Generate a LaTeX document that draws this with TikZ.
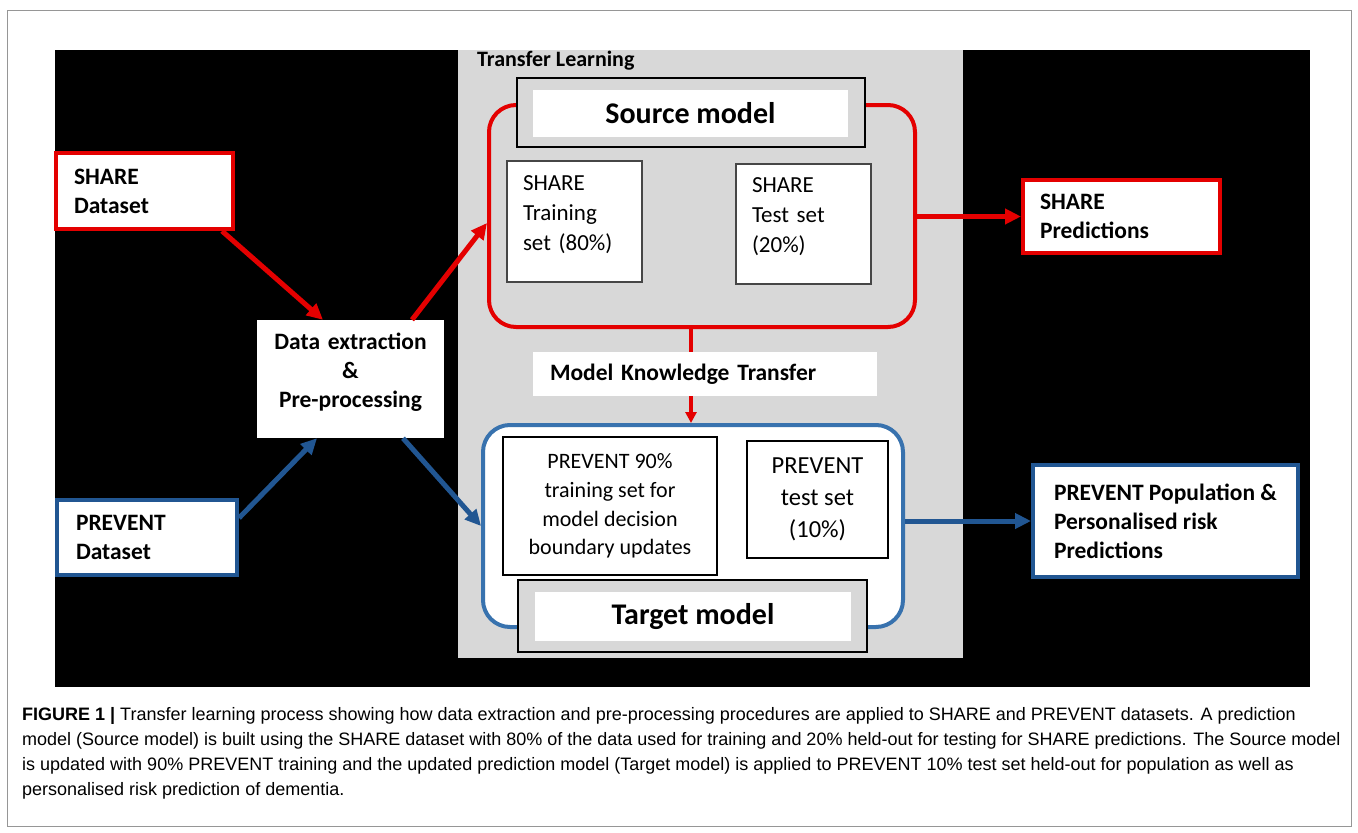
\documentclass[tikz,border=0pt]{standalone}
\usepackage{fontspec}
\setmainfont{Carlito}
\newfontfamily\capfont{Liberation Sans}
\usetikzlibrary{arrows.meta}

\definecolor{shred}{RGB}{228,0,0}
\definecolor{prblue}{RGB}{33,86,146}
\definecolor{rimblue}{RGB}{56,114,174}
\definecolor{panelgray}{RGB}{216,216,216}
\definecolor{framegray}{RGB}{150,150,150}
\definecolor{setborder}{RGB}{70,70,70}

\begin{document}
\begin{tikzpicture}[x=1pt, y=-1pt,
  nrm/.style={font=\fontsize{23}{30}\selectfont},
  bld/.style={font=\bfseries\fontsize{23.5}{29}\selectfont},
  inout/.style={bld, fill=white, line width=4pt, inner xsep=18pt, inner ysep=0pt, align=left},
  setbox/.style={nrm, draw=setborder, line width=1.5pt, fill=white, inner xsep=16pt, inner ysep=0pt, align=left},
  prevset/.style={draw=black, line width=1.5pt, fill=white, align=center, inner sep=0pt},
  modelframe/.style={draw=black, line width=2pt, fill=panelgray, inner sep=0pt},
  modelname/.style={fill=white, inner sep=0pt, font=\bfseries\fontsize{30}{36}\selectfont},
  grouprect/.style={rounded corners=27pt, line width=4pt, inner sep=0pt},
  redarrow/.style={shred, line width=5pt, -{Triangle[length=16pt,width=15pt]}},
  bluearrow/.style={prblue, line width=5pt, -{Triangle[length=16pt,width=15pt]}}]

  % page, frame and backgrounds
  \fill[white] (0,0) rectangle (1358,833);
  \useasboundingbox (0,0) rectangle (1358,833);
  \draw[framegray, line width=1pt] (7,10) rectangle (1351,826);
  \fill[black] (55,50) rectangle (1310,687);
  \fill[panelgray] (458,50) rectangle (963,658);
  \node[anchor=west, inner sep=0pt, font=\bfseries\fontsize{22}{26}\selectfont] (tl) at (477,61) {Transfer Learning};

  % source model
  \node[grouprect, draw=shred, minimum width=426pt, minimum height=222pt] (srcbox) at (702,216) {};
  \node[modelframe, minimum width=348pt, minimum height=69pt] (srcmodel) at (691,112.5) {};
  \node[modelname, minimum width=315pt, minimum height=47pt] (srcname) at (690.5,113.5) {Source model};
  \node[setbox, text width=103pt, text height=29.5pt, text depth=91.5pt] (sharetrain) at (574.5,221.5) {SHARE\\Training\\set (80\%)};
  \node[setbox, text width=103pt, text height=28.5pt, text depth=91.5pt] (sharetest) at (803.5,224) {SHARE\\Test set\\(20\%)};

  \node[bld, fill=white, inner xsep=17pt, inner ysep=0pt, text width=310pt, minimum height=44pt, align=left] (mkt) at (705,374) {Model Knowledge Transfer};

  % target model
  \node[grouprect, draw=rimblue, fill=white, minimum width=420pt, minimum height=202pt] (tgtbox) at (693,526) {};
  \node[prevset, minimum width=214pt, minimum height=138pt, font=\fontsize{22}{28.7}\selectfont] (prevtrain) at (610,506) {PREVENT 90\%\\training set for\\model decision\\boundary updates};
  \node[prevset, minimum width=141pt, minimum height=117pt, font=\fontsize{24.5}{32}\selectfont] (prevtest) at (817.5,499.5) {PREVENT\\test set\\(10\%)};
  \node[modelframe, minimum width=349pt, minimum height=72pt] (tgtmodel) at (692.5,616) {};
  \node[modelname, minimum width=316pt, minimum height=49pt] (tgtname) at (693,616.5) {Target model};

  % datasets, pre-processing and predictions
  \node[inout, draw=shred, text width=141pt, minimum height=76pt] (share) at (144.5,191) {SHARE\\Dataset};
  \node[inout, draw=prblue, text width=142pt, inner xsep=19pt, minimum height=75pt] (prevent) at (147,537.5) {PREVENT\\Dataset};
  \node[bld, fill=white, text width=187pt, text height=29.5pt, text depth=88.5pt, align=center, inner sep=0pt] (prep) at (350.5,379) {Data extraction\\\&\\Pre-processing};
  \node[inout, draw=shred, inner xsep=17pt, text width=163pt, minimum height=73pt] (sharepred) at (1121.5,216.5) {SHARE\\Predictions};
  \node[bld, draw=prblue, fill=white, line width=4pt, inner sep=0pt, align=left, minimum width=265pt, minimum height=112pt] (prevpred) at (1165.5,521) {PREVENT Population \&\\Personalised risk\\Predictions};

  % connectors
  \draw[redarrow] ([xshift=-13pt]share.south east) -- ([xshift=-27.5pt]prep.north);
  \draw[redarrow] ([xshift=61.5pt]prep.north) -- ([yshift=-7pt]srcbox.west);
  \draw[bluearrow] ([yshift=19.5pt]prevent.east) -- ([xshift=-33.5pt]prep.south);
  \draw[bluearrow] ([xshift=52.5pt]prep.south) -- (tgtbox.west);
  \draw[redarrow] (srcbox.east |- sharepred.west) -- (sharepred.west);
  \draw[bluearrow] (tgtbox.east |- prevpred.west) -- (prevpred.west);
  \draw[shred, line width=4pt] (srcbox.south -| srcmodel) -- (mkt.north -| srcmodel);
  \draw[shred, line width=4pt, -{Triangle[length=11pt,width=11pt]}] (mkt.south -| srcmodel) -- (tgtbox.north -| srcmodel);

  % caption
  \node[anchor=north west, inner sep=0pt, align=left, font=\capfont\fontsize{18}{25}\selectfont] (caption) at (22,707) {\textbf{FIGURE 1 |} Transfer learning process showing how data extraction and pre-processing procedures are applied to SHARE and PREVENT datasets. A prediction\\model (Source model) is built using the SHARE dataset with 80\% of the data used for training and 20\% held-out for testing for SHARE predictions. The Source model\\is updated with 90\% PREVENT training and the updated prediction model (Target model) is applied to PREVENT 10\% test set held-out for population as well as\\personalised risk prediction of dementia.};
\end{tikzpicture}
\end{document}
